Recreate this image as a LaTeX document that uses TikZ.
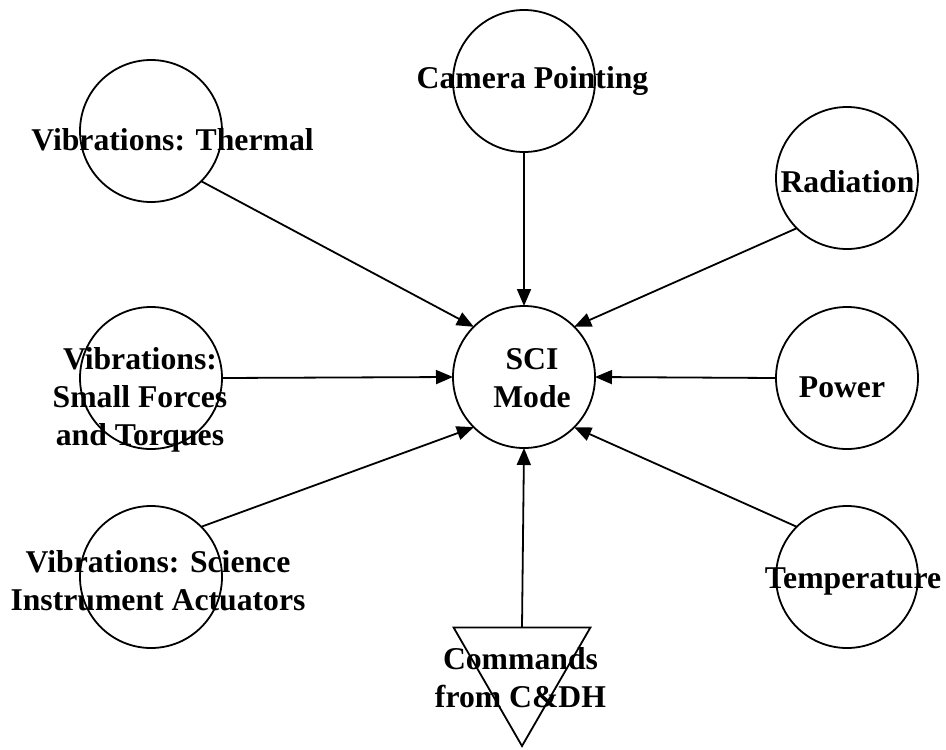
\documentclass[tikz,border=0pt]{standalone}
\usepackage{fontspec}
\setmainfont{Liberation Serif}
\usetikzlibrary{shapes.geometric,arrows.meta}
\begin{document}
\begin{tikzpicture}[x=1pt,y=-1pt,
  circ/.style={circle,draw,line width=1.8pt,minimum size=142pt,inner sep=0pt,outer sep=0pt},
  tri/.style={regular polygon,regular polygon sides=3,shape border rotate=180,draw,line width=1.8pt,minimum size=158pt,inner sep=0pt,outer sep=0pt},
  lbl/.style={anchor=base,align=center,inner sep=0pt,font=\fontsize{31.7}{38}\selectfont\bfseries},
  flow/.style={line width=1.8pt,-{Triangle[length=17pt,width=14pt]}}]
\useasboundingbox (0,0) rectangle (946,750);
% shapes
\node[circ] (thermal) at (151,131) {};
\node[circ] (camera) at (524,81) {};
\node[circ] (radiation) at (847,178) {};
\node[circ] (small) at (151,378) {};
\node[circ] (sci) at (524,377) {};
\node[circ] (power) at (847,378) {};
\node[circ] (science) at (151,577) {};
\node[circ] (temp) at (847,577) {};
\node[tri] (cmd) at (522,667) {};
% labels (multi-line labels anchored at last baseline)
\node[lbl] (tthermal) at (172.5,150) {Vibrations: Thermal};
\node[lbl] (tcamera) at (532.5,88) {Camera Pointing};
\node[lbl] (tradiation) at (847.5,192) {Radiation};
\node[lbl] (tsmall) at (140,445) {Vibrations:\\Small Forces\\and Torques};
\node[lbl] (tsci) at (532,407) {SCI\\Mode};
\node[lbl] (tpower) at (842,397) {Power};
\node[lbl] (tscience) at (158,610) {Vibrations: Science\\Instrument Actuators};
\node[lbl] (ttemp) at (853,588) {Temperature};
\node[lbl] (tcmd) at (520.5,707) {Commands\\from C\&DH};
% connectors
\draw[flow] (thermal.-45) -- (sci.135);
\draw[flow] (camera.south) -- (sci.north);
\draw[flow] (radiation.225) -- (sci.45);
\draw[flow] (small.east) -- (sci.west);
\draw[flow] (power.west) -- (sci.east);
\draw[flow] (science.45) -- (sci.225);
\draw[flow] (temp.135) -- (sci.-45);
\draw[flow] (cmd.north) -- (sci.south);
\end{tikzpicture}
\end{document}
